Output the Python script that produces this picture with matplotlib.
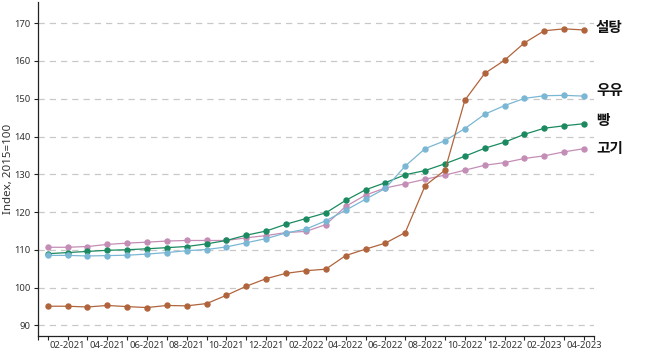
import matplotlib
matplotlib.use("Agg")
import matplotlib.pyplot as plt
from matplotlib.ticker import FixedLocator

plt.rcParams["font.family"] = ["Noto Sans", "Noto Sans CJK KR", "DejaVu Sans"]

# monthly index, 01-2021 .. 04-2023
months = [f"{m:02d}-{y}" for y in (2021, 2022, 2023) for m in range(1, 13)][:28]

sugar = [95.1, 95.1, 94.9, 95.3, 95.0, 94.75, 95.3, 95.2, 95.8, 98.0, 100.4, 102.4,
         103.8, 104.5, 104.9, 108.5, 110.2, 111.8, 114.6, 127.0, 131.1, 149.6, 156.7, 160.2,
         164.8, 168.0, 168.5, 168.2]
milk = [108.55, 108.55, 108.4, 108.5, 108.6, 108.9, 109.3, 109.8, 110.1, 110.8, 111.9, 113.0,
        114.5, 115.5, 117.7, 120.5, 123.4, 126.3, 132.2, 136.8, 138.9, 142.1, 145.9, 148.2,
        150.1, 150.8, 150.9, 150.7]
bread = [109.0, 109.3, 109.6, 109.9, 110.05, 110.3, 110.6, 110.9, 111.6, 112.5, 113.9, 115.0,
         116.8, 118.3, 119.8, 123.1, 125.9, 127.8, 129.9, 131.0, 132.8, 134.8, 136.9, 138.5,
         140.6, 142.2, 142.85, 143.4]
meat = [110.7, 110.7, 110.9, 111.45, 111.8, 112.05, 112.35, 112.5, 112.5, 112.5, 113.2, 113.8,
        114.6, 114.9, 116.7, 121.5, 124.5, 126.4, 127.5, 128.7, 129.8, 131.1, 132.4, 133.1,
        134.2, 134.9, 135.95, 136.8]

series = [
    ("고기", meat, "#c48db6"),
    ("빵", bread, "#1b8a60"),
    ("우유", milk, "#7ab7d5"),
    ("설탕", sugar, "#b0643c"),
]
label_y = {"설탕": 168.5, "우유": 152.0, "빵": 144.0, "고기": 136.6}

fig = plt.figure(figsize=(6.58, 3.53), dpi=100)
ax = fig.add_axes([0.0573, 0.049, 0.8454, 0.9453])

x = list(range(len(months)))
for name, vals, color in series:
    ax.plot(x, vals, color=color, lw=0.9, marker="o", ms=3.6,
            mec=color, mfc=color, zorder=3)
    ax.text(x[-1] + 0.6, label_y[name], name, fontsize=10.5, fontweight="bold",
            color="#111111", va="center", ha="left", clip_on=False)

ax.set_xlim(-0.5, 27.5)
ax.set_ylim(87.3, 175.6)

ax.set_yticks(range(90, 171, 10))
ax.yaxis.grid(True, linestyle=(0, (5, 4)), color="#c8c8c8", lw=0.9)
ax.set_axisbelow(True)

ax.xaxis.set_major_locator(FixedLocator(x))
ax.set_xticklabels([m if i % 2 == 1 else "" for i, m in enumerate(months)])
ax.xaxis.set_minor_locator(FixedLocator([-0.5, 27.5]))
ax.tick_params(axis="x", which="both", length=3, width=0.8, labelsize=6.8, pad=1,
               colors="#222222")
ax.tick_params(axis="y", length=3, width=0.8, labelsize=6.8, pad=2, colors="#222222")
for lbl in ax.get_xticklabels() + ax.get_yticklabels():
    lbl.set_color("#333333")

ax.spines["top"].set_visible(False)
ax.spines["right"].set_visible(False)
for s in ("left", "bottom"):
    ax.spines[s].set_color("#222222")
    ax.spines[s].set_linewidth(0.9)

ax.set_ylabel("Index, 2015=100", fontsize=8.3, color="#333333")
ax.yaxis.set_label_coords(-0.042, 0.5)

fig.savefig("out.png", dpi=100)
